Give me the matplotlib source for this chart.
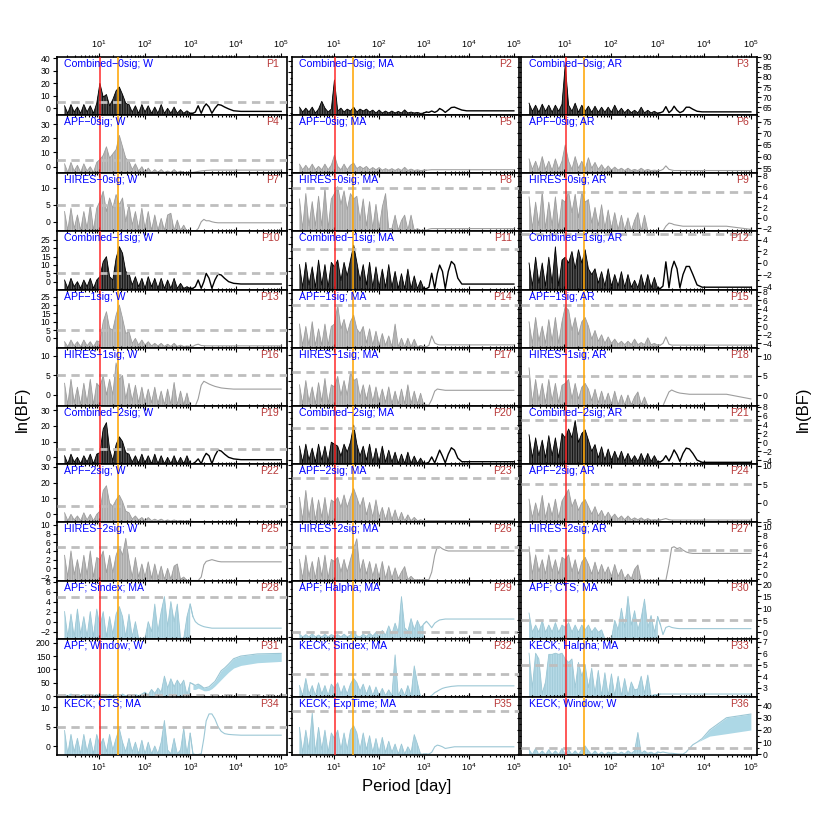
import numpy as np
import matplotlib
matplotlib.use("Agg")
import matplotlib.pyplot as plt
from matplotlib.ticker import (FixedLocator, AutoMinorLocator, MaxNLocator,
                               LogLocator, NullFormatter, LogFormatterMathtext)

plt.rcParams['font.family'] = ['Liberation Sans', 'DejaVu Sans']
plt.rcParams['mathtext.fontset'] = 'custom'
plt.rcParams['mathtext.rm'] = 'Liberation Sans'
plt.rcParams['mathtext.it'] = 'Liberation Sans:italic'
plt.rcParams['mathtext.bf'] = 'Liberation Sans:bold'
plt.rcParams['hatch.linewidth'] = 0.55

# ---------------- data ----------------
period_noise = [1.74, 2.05, 2.41, 2.83, 3.34, 3.93, 4.62, 5.44, 6.40, 7.54,
                8.87, 10.4, 12.3, 14.5, 17.0, 20.0, 23.6, 27.8, 32.7, 38.5,
                45.3, 53.3, 62.7, 73.8, 86.9, 102, 120, 142, 167, 196,
                231, 272, 320, 377, 444, 522, 615, 723, 851, 1000]
period_tail = [1150, 1300, 1500, 1750, 2000, 2250, 2600, 3000, 3500, 4100,
               4800, 5700, 7000, 9000, 13000, 30000, 100000]

p01 = [2,-4,3,-3,1,-4,3,-3,2,-4,4, 20, 9,11,2,7,14,17,11,4,
       3,-3,2,-4,3,-3,2,-4,1,-4,3,-4,0,-4,1,-4,-1,-4,-2,-4,
       -4,-3,2,-4,1,3.5,1,-4,0,3,2.5,1,-0.5,-2,-2.5,-2.5,-2.5]
p02 = [66,63.5,65.5,63.5,66,63,65,69,65.5,63.5,65, 80, 64,65.5,63.5,65,64,66,63.5,65,
       64,65,63.5,64.5,63,64.5,63,64,63,64,63,63.8,63,64.6,63,63.5,63,63.3,62.8,63,
       63.5,63.3,64,63.3,64,65.3,64.5,63.3,64.5,65.8,66,65.3,64.5,64.1,64.1,64.1,64.1]
p03 = [67,63,66,62.5,66.5,63,66,62.5,66,63,66.5, 86, 66,63,67,62.5,66,63,65.5,62.5,
       65.5,62.5,65,62.5,65,62.5,66,62.5,64.5,62.3,64,62.3,63.5,62.2,65,62.2,63.5,62.2,63,62,
       62.3,62.8,65.3,62.3,63.5,65.5,63.5,62.3,63,65,65,64,63,62.7,62.7,62.7,62.7]
p04 = [2,-4,3,-3,1,-4,2,-3,0,-4,3, 5, 8,14,6,9,12,22,14,6,
       4,-2,2,-3,0,-4,-1,-4,-2,-4,-2,-4,-3,-4,-2,-4,-3,-4,-4,-4,
       -4,-3.7,-3.3,-3,-2.8,-2.6,-2.5,-2.4,-2.4,-2.4,-2.4,-2.4,-2.4,-2.4,-2.4,-2.4,-2.4]
p05 = [56,53.5,55.5,53.5,56,53.5,55,53.5,56,53.5,55.5, 60, 55,53.5,56,53.5,55.5,56.5,54,55,
       54,55,53.5,54.5,53.5,54.5,53.3,54,53.3,54,53.2,54,53.2,54.6,53.2,53.8,53.2,53.5,53.2,53.3,
       53.3,53.4,53.5,53.5,53.5,53.5,53.5,53.5,53.5,53.5,53.5,53.5,53.5,53.5,53.5,53.5,53.5]
p06 = [59,54.5,58,54,60,54.5,58,54,59,54.5,58, 65, 58,54.5,60,55,58,54.5,59.5,55,
       57.5,54.5,56.5,54.3,56,54.2,55.5,54.2,55,54,55,54,54.5,54,55,54,54.5,54,54.2,54,
       54,54.5,56,54.5,54.2,54,54,54,54,54,54,54,54,54,54,54,54]
p07 = [3,-2.5,4,-2,2,-2.5,3,-2,5,-2.5,4, 6, 9,3,7,4,8,5,7,0,
       5,-1,3,-2,4,-2,3,-2.5,2,-2.5,1,-2.5,2,2.5,-2.5,0.5,-2.5,-1,-2.8,-2.8,
       -2.8,-2.8,-2,0,0.7,0.3,0.3,0,-0.2,-0.3,-0.3,-0.3,-0.3,-0.3,-0.3,-0.3,-0.3]
p08 = [3,-2.5,4,-2,2.5,-2,3.5,-2,5,-2.5,3, 4, 5.3,2,4.5,1,4,3,3.5,-1,
       3,-2,2.5,-2.5,2,-2.5,1.5,4,-2.5,-2.5,0,-2.8,-1,0,-2.8,0,-2.8,-2.5,-2.8,-2.8,
       -2.8,-2.6,-2.5,-2.5,-2.5,-2.5,-2.5,-2.5,-2.5,-2.5,-2.5,-2.5,-2.5,-2.5,-2.5,-2.5,-2.5]
p09 = [4,-2,3,-1.5,5,-2,3,-1.5,4,-2,3.5, 3, 5,1,4.5,0,5,3,3.5,-1,
       2,-1.5,2.5,-2,1.5,-2,1,-2.3,0.5,-2.3,0,-2.5,-0.5,1,-2.5,0.5,-2.5,-2.5,-2.5,-2.5,
       -2.5,-2.5,-1.6,-1.0,-1.1,-1.3,-1.4,-1.5,-1.6,-1.6,-1.6,-1.6,-1.6,-1.6,-1.6,-1.6,-2.2]
p10 = [1,-4,2,-3,0,-4,1,-3,2,-4,1, 3, 12,15,3,1,14,21,17,6,
       5,-2,3,-3,2,-4,3,-3,2,-4,2,-4,1,-4,2,-4,-1,-4,-3,-4,
       -4,-3,1,-4,0,5,2,-4,1,4.5,4,2,0,-1,-1.4,-1.4,-1.4]
p11 = [1.5,-3.5,2,-3,1,-3.5,2.5,-3,1.5,-3.5,2, 1, 2.5,-2,2,-1,2.5,5.8,2,-2,
       1.5,-3,2,-3.5,1,-3.5,0.5,-3.5,1.5,-3.5,0,-3.8,-0.5,-3.8,0.5,-3.8,-1,-3.8,-2,-3.8,
       -3.8,-3.5,-0.4,-3.8,-0.5,1.4,0,-3.8,0,2.2,1.5,-1.5,-2.8,-2.8,-2.8,-2.8,-2.8]
p12 = [0,-4,1,-3.5,0,-4,1,-3.5,2.8,-4,0.5, 1, 0,2,-1,2.3,0,2.3,-1,-2,
       -1,-3.5,-1.5,-4,-1,-4,-2,-4,-1.5,-4.2,-2,-4.2,-3,-4.3,-2,-4.3,-2,-4.3,-2.5,-4.4,
       -4.4,-4,0.2,-4.3,-1,0.3,-1,-4.3,-2,-0.6,-0.6,-2,-3.8,-4.2,-4.2,-4.2,-4.2]
p13 = [-2,-5,-1,-4.5,-2,-5,-1,-4.5,-2,-5,-1.5, -2, 10,16,6,5,14,20,12,3,
       4,-3,0,-4,-1,-4,-2,-4.5,-3,-4.5,-3,-4.8,-3.5,-4.8,-3,-4.8,-4,-4.8,-4.5,-4.8,
       -4.8,-4,-3.5,-4.3,-4.4,-4.5,-4.5,-4.5,-4.5,-4.5,-4.5,-4.5,-4.5,-4.5,-4.5,-4.5,-4.5]
p14 = [1,-3.5,0.5,-3.5,1.5,-3.5,0,-3.5,1,-3.5,0.5, 1, 5,0,2,-1,1.5,2.9,0,-1,
       0.5,-3,0,-3.5,-0.5,-3.5,-1,-3.5,-1.5,-3.8,1,-3.8,-2,-3.8,-2,-3.8,-2.2,-3.8,-3.5,-3.8,
       -3.8,-3.5,-1.5,-3,-3.3,-3.4,-3.4,-3.4,-3.4,-3.4,-3.4,-3.4,-3.4,-3.4,-3.4,-3.4,-3.4]
p15 = [1,-4,2,-3.5,0,-4,1.5,-3.5,2,-4,1, 4.5, 3.7,-1,2,-2,1,2,0,-3,
       -1,-3.5,-2,-4,-2.5,-4,-3,-4.2,-3.5,-4.3,-3.5,-4.3,-3,-4.3,-3.8,-4.3,-2.7,-4.3,-4,-4.4,
       -4.4,-4,-2.5,-4.2,-4.4,-4.4,-4.4,-4.4,-4.4,-4.4,-4.4,-4.4,-4.4,-4.4,-4.4,-4.4,-4.4]
p16 = [3,-2.5,4,-2,2,-2.5,3,-2,4,-2.5,3, 2, 5,0,4,0,8.2,4,5,-1,
       3,-1.5,2.5,-2,2,-2,1.5,-2,2,-2.3,1,-2.5,1.5,-2.5,3.2,-2.5,1,-2.5,0.5,-2.8,
       -2.8,-2.8,-1,2.5,3.5,3.2,2.8,2.5,2.2,2.0,1.8,1.7,1.6,1.5,1.5,1.5,1.5]
p17 = [2,-2.5,3,-2,1.5,-2.5,2.5,-2,3.5,-2.5,2, 1.5, 4,-0.5,3,-0.5,5,3,3.5,-1,
       2,-1.5,2,-2,1.5,-2,1,-2.2,1.5,-2.5,0.5,-2.5,1,-2.5,2,-2.5,0.5,-2.5,0,-2.8,
       -2.8,-2.8,-1.5,0.5,1,0.9,0.8,0.7,0.7,0.7,0.7,0.7,0.7,0.7,0.7,0.7,0.7]
p18 = [7,-2,4,-1.5,3,-2,4,-1.5,3,-2,2.5, 3, 4,-1,3,-1,2,3,1.5,-1.5,
       1.5,-2,1,-2,0.5,-2.3,1,-2.5,0,-2.5,0,-2.5,-0.5,0.8,-2.5,-0.5,-2.8,-2.8,-2.8,-2.8,
       -2.8,-2.8,-1,0.8,1.3,1,0.7,0.5,0.4,0.3,0.2,0.2,0.2,0.2,0.2,0.2,-1]
p19 = [1,-4,2,-3,0,-4,1,-3,2,-4,2, 3, 18,22,5,-2,8,13,10,3,
       2,-3,1,-3.5,2,-3.5,1,-4,2,-4,1,-4,0,-4,1,-4,0,-4,1,-4,
       -4,-3,-1,-4,0,2.5,1,-4,1,4.6,4,2,0,-1,-1.5,-1.5,-1.5]
p20 = [0.5,-3.5,1,-3,0,-3.5,1,-3,0.5,-3.5,1.5, 1, 0.5,-2,1,-1,1.5,5.8,1,-2,
       0.5,-3,1,-3.5,0,-3.5,0.5,-3.5,-0.5,-3.5,-1,-3.8,-1.5,-3.8,-1,-3.8,-2,-3.8,-2.5,-3.8,
       -3.8,-3.5,-2.2,-3.7,-2,-0.5,-2,-3.7,-1.5,0.1,-0.5,-2.5,-3.4,-3.4,-3.4,-3.4,-3.4]
p21 = [1.7,-3.5,1,-3,0.5,-3.5,1.5,-3,1,-3.5,2, 1, 3,1,4.9,0,2,2.8,0.5,-2,
       -0.5,-3.5,-1,-4,-1.5,-4,-2,-4,-2,-4.2,-2.5,-4.2,-3,-4.3,-2.5,-4.3,-2.5,-4.3,-3,-4.4,
       -4.4,-4,-3,-4.2,-3,-1.7,-2.8,-4.3,-2.5,-1.3,-1.5,-2.5,-4,-4.5,-4.5,-4.5,-4.5]
p22 = [1,-4,0,-3.5,-1,-4,1,-3.5,0,-4,0, 2, 15,18,7,5,9,12,8,2,
       1,-3,-1,-3.5,-2,-4,-2,-4,-3,-4,-3,-4.2,-3.5,-4.2,-3.5,-4.2,-3.8,-4.3,-4,-4.3,
       -4.3,-4.3,-4.3,-4.3,-4.3,-4.3,-4.3,-4.3,-4.3,-4.3,-4.3,-4.3,-4.3,-4.3,-4.3,-4.3,-4.3]
p23 = [1,-3.5,2.4,-3,1,-3.5,0.5,-3,1,-3.5,0.5, 0, 1,-1,1.5,-1,1,2.8,1,-1,
       1,-2.5,0,-3,0.5,-3,-1,-3.5,-1,-3.5,-1.5,-3.7,-2,-3.7,-2.5,-3.7,-3,-3.7,-3.5,-3.7,
       -3.65,-3.65,-3.65,-3.65,-3.65,-3.65,-3.65,-3.65,-3.65,-3.65,-3.65,-3.65,-3.65,-3.65,-3.65,-3.65,-3.65]
p24 = [1,-4,0,-3.5,2,-4,0,-3.5,1,-4,0.5, 2, 3.6,-1,1,-2,0,0.9,-1,-3,
       -1,-3.5,-2,-4,-2.5,-4,-3,-4.3,-3.5,-4.5,-3.5,-4.5,-4,-4.5,-4,-4.6,-4.2,-4.6,-4.5,-4.6,
       -4.6,-4.4,-4.2,-4.5,-4.6,-4.6,-4.6,-4.6,-4.6,-4.6,-4.6,-4.6,-4.6,-4.6,-4.6,-4.6,-4.6]
p25 = [3,-2,4,-1.5,2,-2,3,-1.5,4,-2,2.5, 2, 4,-1,3,-1,3,5,3,6.9,
       2,-2,2.5,-2,1,-2,1.5,-2.3,1,-2.3,0.5,-2.5,0,-2.5,0.5,1,-2.5,-2,-2.8,-2.8,
       -2.8,-2.8,-2.8,-2,0.8,1.6,1.8,2.0,1.8,1.6,1.5,1.5,1.5,1.5,1.5,1.5,1.5]
p26 = [2,-2.5,3,-2,1.5,-2.5,2.5,-2,3,-2.5,2, 1.5, 2.5,-1,2,-1,2,4.6,6.9,-1,
       2,-1.5,1.5,-2,1,-2.2,1.5,-2.5,0.5,-2.5,0,-2.5,-1,0.3,-2.8,-2,-2.8,-2.8,-2.8,-2.8,
       -2.8,-2.8,-1,3,5,5,4.5,4.2,4,4,4,4,4,4,4,4,4]
p27 = [5.7,0,4,0.5,3,0,4,0.5,3,0,3.5, 3, 4,0.5,3,0,2.5,3.5,2,0,
       2.5,0,2,0,1.5,-0.5,2,-0.5,1,-1,0,-1,1,1.9,-1.3,-1.3,-1.3,-1.3,-1.3,-1.3,
       -1.3,-1.3,-1.3,2,5.5,5.7,5.3,5.5,5,4.6,4.4,4.3,4.3,4.3,4.3,4.3,4.3]
p28 = [2,-3,1.5,-3,2.5,-2.5,1,-3,2,-3,2.5, -1, 2,-3,1,-2.5,1.5,3,1,-3,
       1.5,-3,0,-3.3,-3.3,-3.3,0,-2,3.5,-2,2,5,-1,4,0,3.5,-3.3,-3.3,1,3.5,
       1,0,-0.5,-0.8,-1,-1.1,-1.2,-1.3,-1.3,-1.3,-1.3,-1.3,-1.3,-1.3,-1.3,-1.3,-1.3]
p29 = [3,0,2.5,0,3.5,0,2,0,3,0,2.5, 1, 2.5,0,3,0,2,7,1,0,
       3,0.5,4,1,5,1,7,2,12,3,15,5,44,10,6,20,8,18,10,14,
       17,14,10,15,17,18.5,19,19.5,19.5,19.5,19.5,19.5,19.5,19.5,19.5,19.5,19.5]
p30 = [8,0,3,0,5,0,3,0,4,0,3, 2, 4,0,3,0,3,1,3,0,
       2,0,1,-2.7,-2.7,-2.7,5,1,10,2,15,3,9,1,6,13.8,2,7,0,6.5,
       3,-1,2,2.5,2,1.8,1.6,1.5,1.5,1.5,1.5,1.5,1.5,1.5,1.5,1.5,1.5]
p31 = [6,1,8,1,5,1,6,1,5,1,6, 1, 5,1,6,1,5,1,8,1,
       5,1,6,2,8,15,5,25,10,30,15,75,30,65,35,60,40,60,5,50,
       45,40,45,38,30,32,35,45,55,75,95,105,120,140,150,158,160]
p31_low = [25,25,30,25,20,20,22,28,38,50,62,75,90,105,115,125,130]
p32 = [1,-2.5,3.5,-2,1,-2.5,2,-2,1,-2.5,1.5, 0, 2,-2,1,-2,1.5,3.5,2,-1,
       1.5,-2,1,-2.5,0.5,-2.5,0,-2.5,-0.5,-2.5,11.8,-2.5,0,-2.5,1,-2.5,7.9,2,-3,-3,
       -3,-3,-2.5,-1.5,-1,-0.5,0,0.3,0.5,0.7,0.8,0.9,0.9,0.9,0.9,0.9,0.9]
p33 = [6,3,6,5.5,2.5,3.5,5.9,5.9,6,5.9,6, 5.5, 5.2,5.5,3,5.2,4,5,3,4.7,
       2.5,4.5,2.3,4.3,2.3,4.2,2.3,4,2.3,3.8,2.3,3.5,2.8,2.9,4,2.5,4.1,2.3,2.4,2.4,
       2.45,2.45,2.45,2.45,2.45,2.45,2.45,2.45,2.45,2.45,2.45,2.45,2.45,2.45,2.45,2.45,2.45]
p34 = [4,-2,3,-1.5,2,-2,3,-1.5,2,-2,3, 0, 2,-1.5,3,-1,2,4.5,1,-1.5,
       2,-1.5,1,-2,1.5,-2,1,-2,0,-2,1,6.6,-1,-2,2,-2,-1,4.6,-2,3.3,
       -2,-2.2,-2.2,-2,2,6.5,8.3,8.3,7,5,3.8,3.2,3,2.9,2.8,2.8,2.8]
p35 = [2,-2.5,1.5,-2,4.6,-2.5,2,-2,1.5,-2.5,1, 0, 1.5,-2,1,-2,1.5,2.3,1,-2,
       1,-2,0.5,-2.5,0,-2.5,0.2,-2.5,-0.5,-2.5,-1,-2.8,-1,-2.8,-1.5,-2.5,0.7,-1,-2.8,-2.8,
       -2.8,-2.8,-2.5,-1.5,-1.2,-1.3,-1.5,-1.8,-1.7,-1.6,-1.5,-1.5,-1.5,-1.5,-1.5,-1.5,-1.5]
p36 = [4,0,5,0,3,0,4,0,3,0,5, 0, 4,0,3,0,4,7,3,0,
       3,0,2,0,2,1,2,0.5,2,0.5,3,1,3,18,1,3,1,2,0.5,2,
       1.5,2,1.5,1,1,0.8,0.5,0.3,0.3,2,5,8,10,13,20,30,33]
p36_low = [1.5,2,1.5,1,1,0.8,0.5,0.3,0.3,2,5,8,10,12,15,17,20]

titles = ["Combined\u22120sig; W", "Combined\u22120sig; MA", "Combined\u22120sig; AR",
          "APF\u22120sig; W", "APF\u22120sig; MA", "APF\u22120sig; AR",
          "HIRES\u22120sig; W", "HIRES\u22120sig; MA", "HIRES\u22120sig; AR",
          "Combined\u22121sig; W", "Combined\u22121sig; MA", "Combined\u22121sig; AR",
          "APF\u22121sig; W", "APF\u22121sig; MA", "APF\u22121sig; AR",
          "HIRES\u22121sig; W", "HIRES\u22121sig; MA", "HIRES\u22121sig; AR",
          "Combined\u22122sig; W", "Combined\u22122sig; MA", "Combined\u22122sig; AR",
          "APF\u22122sig; W", "APF\u22122sig; MA", "APF\u22122sig; AR",
          "HIRES\u22122sig; W", "HIRES\u22122sig; MA", "HIRES\u22122sig; AR",
          "APF; Sindex; MA", "APF; Halpha; MA", "APF; CTS; MA",
          "APF; Window; W", "KECK; Sindex; MA", "KECK; Halpha; MA",
          "KECK; CTS; MA", "KECK; ExpTime; MA", "KECK; Window; W"]

series = [p01, p02, p03, p04, p05, p06, p07, p08, p09, p10, p11, p12,
          p13, p14, p15, p16, p17, p18, p19, p20, p21, p22, p23, p24,
          p25, p26, p27, p28, p29, p30, p31, p32, p33, p34, p35, p36]
bands = {30: p31_low, 35: p36_low}

ylims = [(-5.3, 41.3), (62, 92), (61.2, 90),
         (-4.5, 36.4), (52, 78), (52.9, 77.9),
         (-2.8, 14.3), (-3, 7.8), (-2.57, 8.55),
         (-4.7, 30.2), (-4, 8.86), (-4.6, 5.5),
         (-5.6, 29.3), (-4, 8.33), (-5.0, 8.5),
         (-2.8, 12.1), (-3, 10.8), (-2.8, 12.2),
         (-4.3, 32.6), (-4, 10.6), (-4.9, 8.2),
         (-5, 31.6), (-4, 7.7), (-5.2, 10.4),
         (-2.8, 10.6), (-3, 10.8), (-1.35, 10.8),
         (-3.4, 8.2), (-2, 61.6), (-2.7, 21.6),
         (-3, 215), (-3, 17.5), (2.2, 7.26),
         (-2.35, 12.7), (-3, 7.5), (-0.5, 47)]

yticks = [[0, 10, 20, 30, 40], None, [65, 70, 75, 80, 85, 90],
          [0, 10, 20, 30], None, [55, 60, 65, 70, 75],
          [0, 5, 10], None, [-2, 0, 2, 4, 6, 8],
          [0, 5, 10, 15, 20, 25], None, [-4, -2, 0, 2, 4],
          [0, 5, 10, 15, 20, 25], None, [-4, -2, 0, 2, 4, 6, 8],
          [0, 5, 10], None, [0, 5, 10],
          [0, 10, 20, 30], None, [-4, -2, 0, 2, 4, 6, 8],
          [0, 10, 20, 30], None, [-5, 0, 5, 10],
          [-2, 0, 2, 4, 6, 8, 10], None, [0, 2, 4, 6, 8, 10],
          [-2, 0, 2, 4, 6, 8], None, [0, 5, 10, 15, 20],
          [0, 50, 100, 150, 200], None, [3, 4, 5, 6, 7],
          [0, 5, 10], None, [0, 10, 20, 30, 40]]

row_kind = ['comb', 'inst', 'inst', 'comb', 'inst', 'inst',
            'comb', 'inst', 'inst', 'act', 'act', 'act']
threshold = 5
p_red = 10.6
p_orange = 26.3

# ---------------- style / layout ----------------
# (line colour, fill colour, fill alpha, tail line width)
styles = {'comb': ('#000000', '#000000', 0.6, 1.0),
          'inst': ('#9E9E9E', '#A8A8A8', 0.6, 0.8),
          'act': ('#9CC7D5', '#ADD8E6', 0.8, 0.8)}

FW = 814.0
TOP = 56.7
H = 58.2
X0 = [56.7, 291.7, 521.0]
W = [230.0, 227.6, 235.5]
XLIM = (1.17, 1.32e5)

periods = np.array(period_noise + period_tail, dtype=float)
ptail = np.array(period_tail, dtype=float)
nn = len(period_noise)

fig = plt.figure(figsize=(8.14, 8.14), dpi=100)

for k in range(36):
    r, c = divmod(k, 3)
    ax = fig.add_axes([X0[c] / FW, 1 - (TOP + (r + 1) * H) / FW, W[c] / FW, H / FW])
    y = np.array(series[k], dtype=float)
    if len(y) != len(periods):
        raise ValueError(f"panel {k+1} has {len(y)} values")
    lc, fc, fa, tlw = styles[row_kind[r]]
    ylo = ylims[k][0]
    # dense periodogram region: translucent fill plus fine vertical hatching
    ax.fill_between(periods[:nn], y[:nn], ylo, facecolor=fc, alpha=fa, lw=0, zorder=1)
    ax.fill_between(periods[:nn], y[:nn], ylo, facecolor='none', edgecolor=lc,
                    hatch='||||||||||', lw=0, zorder=1.5)
    if k in bands:
        ax.fill_between(ptail, bands[k], y[nn:], color=fc, lw=0, zorder=1)
    ax.plot(periods[:nn + 1], y[:nn + 1], color=lc, lw=0.6, zorder=2)
    ax.plot(periods[nn - 1:], y[nn - 1:], color=lc, lw=tlw, zorder=2)
    ax.axhline(threshold, color='#BEBEBE', lw=2.0, dashes=(3, 2), zorder=3)
    ax.axvline(p_red, color='#FF2020', alpha=0.75, lw=1.4, zorder=4)
    ax.axvline(p_orange, color='#FFA500', alpha=0.8, lw=1.4, zorder=4)

    ax.set_xscale('log')
    ax.set_xlim(*XLIM)
    ax.set_ylim(*ylims[k])
    for s in ax.spines.values():
        s.set_linewidth(1.2)

    ax.xaxis.set_major_locator(LogLocator(base=10, numticks=12))
    ax.xaxis.set_minor_locator(LogLocator(base=10, subs=np.arange(2, 10), numticks=12))
    ax.xaxis.set_minor_formatter(NullFormatter())
    ax.xaxis.set_major_formatter(LogFormatterMathtext())
    outer = (r == 0 or r == 11)
    ax.tick_params(axis='x', which='both', top=True, bottom=True,
                   direction='out' if outer else 'in',
                   labeltop=(r == 0), labelbottom=(r == 11),
                   labelsize=6.5, pad=1.5, width=0.8)
    ax.tick_params(axis='x', which='major', length=3)
    ax.tick_params(axis='x', which='minor', length=1.6)

    if c == 0:
        ax.yaxis.set_major_locator(FixedLocator(yticks[k]))
        ax.tick_params(axis='y', which='both', left=True, right=False,
                       direction='out', labelleft=True, labelsize=6.2, pad=1.5,
                       width=0.8, length=3)
    elif c == 1:
        ax.yaxis.set_major_locator(MaxNLocator(nbins=5))
        ax.yaxis.set_minor_locator(AutoMinorLocator(2))
        ax.tick_params(axis='y', which='both', left=True, right=False,
                       direction='out', labelleft=False, width=0.8)
        ax.tick_params(axis='y', which='major', length=3)
        ax.tick_params(axis='y', which='minor', length=1.6)
    else:
        ax.yaxis.set_major_locator(FixedLocator(yticks[k]))
        ax.yaxis.set_minor_locator(AutoMinorLocator(2))
        ax.tick_params(axis='y', which='both', left=True, right=True,
                       direction='out', labelleft=False, labelright=True,
                       labelsize=6.2, pad=1.5, width=0.8)
        ax.tick_params(axis='y', which='major', length=3)
        ax.tick_params(axis='y', which='minor', length=1.6)

    ax.text(0.032, 0.965, titles[k], transform=ax.transAxes, ha='left', va='top',
            color='#0000FF', fontsize=7.6, zorder=6)
    ax.text(0.968, 0.965, f"P{k+1}", transform=ax.transAxes, ha='right', va='top',
            color='#B83A3A', fontsize=7.6, zorder=6)

fig.text(22 / FW, 1 - 409 / FW, 'ln(BF)', rotation=90, ha='center', va='center', fontsize=12)
fig.text(803 / FW, 1 - 409 / FW, 'ln(BF)', rotation=90, ha='center', va='center', fontsize=12)
fig.text(407 / FW, 1 - 787 / FW, 'Period [day]', ha='center', va='center', fontsize=12)

fig.savefig('out.png', dpi=100)
